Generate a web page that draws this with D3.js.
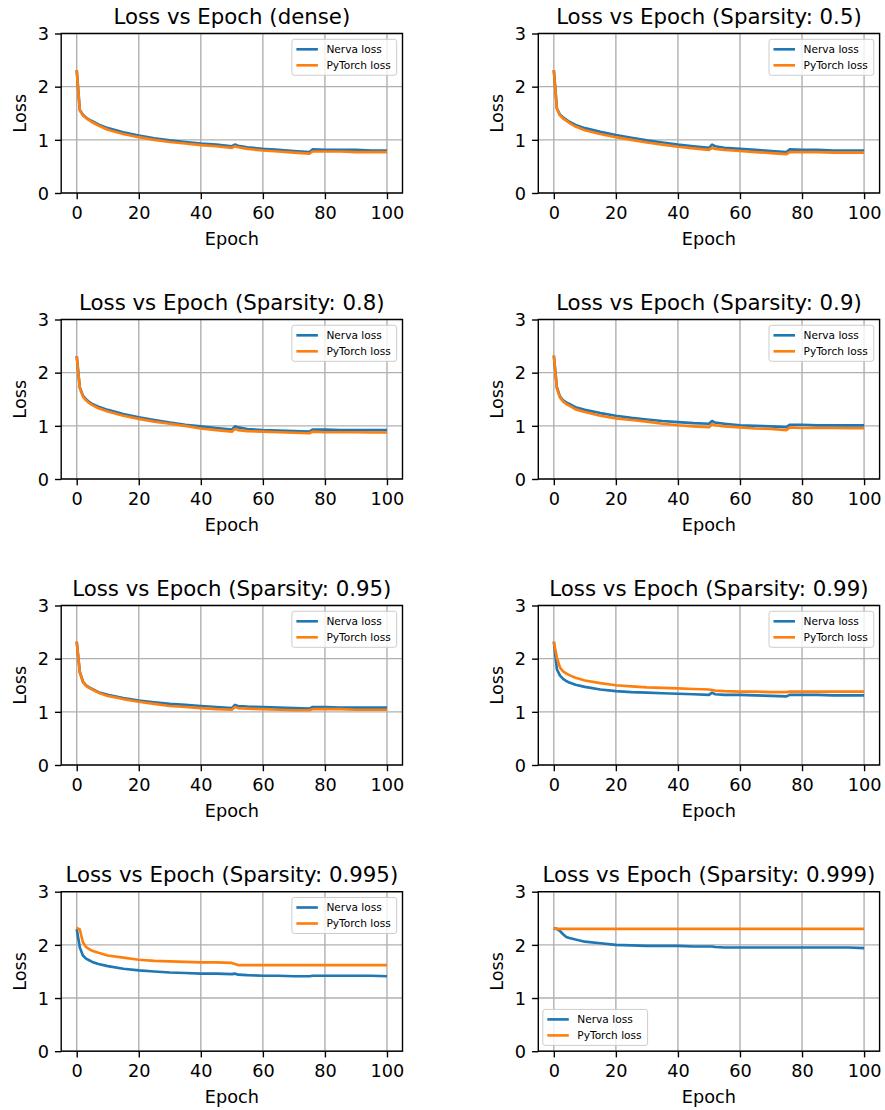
<!DOCTYPE html>
<html>
<head>
<meta charset="utf-8">
<script src="https://cdn.jsdelivr.net/npm/d3@7"></script>
<style>
  html, body { margin: 0; padding: 0; background: #fff; }
  svg { display: block; font-family: "DejaVu Sans", sans-serif; }
</style>
</head>
<body>
<svg id="chart" width="885" height="1110"></svg>
<script>
// ---------------- data ----------------
const epochs = [0,1,2,3,4,5,7,10,15,20,25,30,35,40,45,50,51,52,55,60,65,70,75,76,80,85,90,95,100];

const titles = [
  "Loss vs Epoch (dense)",
  "Loss vs Epoch (Sparsity: 0.5)",
  "Loss vs Epoch (Sparsity: 0.8)",
  "Loss vs Epoch (Sparsity: 0.9)",
  "Loss vs Epoch (Sparsity: 0.95)",
  "Loss vs Epoch (Sparsity: 0.99)",
  "Loss vs Epoch (Sparsity: 0.995)",
  "Loss vs Epoch (Sparsity: 0.999)"
];

const seriesNames = ["Nerva loss", "PyTorch loss"];

const nervaDense   = [2.31,1.56,1.47,1.42,1.38,1.35,1.29,1.22,1.14,1.08,1.03,0.99,0.96,0.93,0.91,0.88,0.91,0.89,0.86,0.83,0.81,0.79,0.77,0.82,0.81,0.81,0.81,0.80,0.80];
const torchDense   = [2.31,1.55,1.46,1.41,1.37,1.33,1.27,1.19,1.11,1.05,1.00,0.96,0.93,0.90,0.88,0.85,0.88,0.86,0.83,0.80,0.78,0.76,0.74,0.78,0.78,0.78,0.77,0.77,0.77];
const nerva05      = [2.31,1.59,1.47,1.42,1.38,1.34,1.28,1.22,1.15,1.09,1.04,0.99,0.95,0.91,0.88,0.85,0.91,0.88,0.85,0.83,0.81,0.79,0.77,0.82,0.81,0.81,0.80,0.80,0.80];
const torch05      = [2.31,1.58,1.46,1.40,1.36,1.32,1.25,1.18,1.11,1.05,1.00,0.95,0.91,0.87,0.84,0.81,0.85,0.83,0.81,0.79,0.77,0.75,0.73,0.77,0.77,0.77,0.76,0.76,0.76];
const nerva08      = [2.31,1.72,1.57,1.50,1.45,1.41,1.36,1.30,1.22,1.16,1.11,1.06,1.02,0.99,0.96,0.93,0.99,0.97,0.94,0.92,0.91,0.90,0.89,0.93,0.93,0.92,0.92,0.92,0.92];
const torch08      = [2.31,1.71,1.55,1.48,1.43,1.39,1.33,1.27,1.19,1.13,1.08,1.04,1.00,0.95,0.92,0.89,0.94,0.92,0.90,0.89,0.88,0.87,0.86,0.89,0.88,0.88,0.88,0.875,0.875];
const nerva09      = [2.32,1.72,1.55,1.48,1.44,1.41,1.35,1.30,1.24,1.19,1.15,1.12,1.09,1.07,1.05,1.04,1.09,1.06,1.04,1.01,1.00,0.99,0.975,1.02,1.02,1.01,1.01,1.01,1.01];
const torch09      = [2.32,1.70,1.53,1.46,1.41,1.38,1.31,1.26,1.19,1.14,1.11,1.08,1.04,1.01,0.99,0.975,1.03,1.01,0.99,0.97,0.95,0.94,0.92,0.97,0.96,0.96,0.96,0.955,0.955];
const nerva095     = [2.32,1.75,1.57,1.50,1.46,1.43,1.37,1.32,1.26,1.21,1.18,1.15,1.13,1.11,1.09,1.07,1.13,1.11,1.10,1.09,1.08,1.07,1.06,1.09,1.09,1.08,1.08,1.08,1.08];
const torch095     = [2.32,1.74,1.56,1.49,1.45,1.42,1.36,1.30,1.24,1.19,1.15,1.11,1.09,1.07,1.05,1.04,1.09,1.07,1.06,1.05,1.04,1.03,1.03,1.05,1.05,1.05,1.04,1.04,1.04];
const nerva099     = [2.32,1.80,1.68,1.62,1.58,1.55,1.51,1.47,1.42,1.39,1.37,1.36,1.35,1.34,1.33,1.32,1.36,1.33,1.32,1.32,1.31,1.30,1.29,1.32,1.32,1.32,1.31,1.31,1.31];
const torch099     = [2.32,2.02,1.83,1.76,1.72,1.69,1.64,1.59,1.54,1.50,1.48,1.46,1.45,1.44,1.43,1.42,1.41,1.40,1.39,1.38,1.38,1.37,1.37,1.38,1.38,1.38,1.38,1.38,1.38];
const nerva0995    = [2.30,1.95,1.80,1.74,1.71,1.68,1.64,1.60,1.55,1.52,1.50,1.48,1.47,1.46,1.46,1.45,1.46,1.44,1.43,1.42,1.42,1.41,1.41,1.42,1.42,1.42,1.42,1.42,1.41];
const torch0995    = [2.32,2.29,2.05,1.96,1.92,1.89,1.85,1.80,1.76,1.72,1.70,1.69,1.68,1.67,1.67,1.66,1.64,1.62,1.62,1.62,1.62,1.62,1.62,1.62,1.62,1.62,1.62,1.62,1.62];
const nerva0999    = [2.31,2.30,2.26,2.20,2.15,2.13,2.10,2.06,2.03,2.00,1.99,1.98,1.98,1.98,1.97,1.97,1.97,1.96,1.95,1.95,1.95,1.95,1.95,1.95,1.95,1.95,1.95,1.95,1.94];
const torch0999    = [2.30,2.30,2.30,2.30,2.30,2.30,2.30,2.30,2.30,2.30,2.30,2.30,2.30,2.30,2.30,2.30,2.30,2.30,2.30,2.30,2.30,2.30,2.30,2.30,2.30,2.30,2.30,2.30,2.30];

const nervaSeries = [nervaDense, nerva05, nerva08, nerva09, nerva095, nerva099, nerva0995, nerva0999];
const torchSeries = [torchDense, torch05, torch08, torch09, torch095, torch099, torch0995, torch0999];
const legendLoc = ["upper right","upper right","upper right","upper right","upper right","upper right","upper right","lower left"];

const xTicks = [0, 20, 40, 60, 80, 100];
const yTicks = [0, 1, 2, 3];

// ---------------- layout ----------------
const colX = [61.2, 538.3];
const rowY = [33.5, 319.5, 605.5, 891.7];
const W = 341.3, H = 159.5;
const colors = ["#1f77b4", "#ff7f0e"];
const tickFont = 17.7, titleFont = 21.3, legendFont = 10.6;
const lw = 1.4, tickLen = 6.2;

const svg = d3.select("#chart");

titles.forEach((title, i) => {
  const col = i % 2, row = Math.floor(i / 2);
  const g = svg.append("g").attr("transform", `translate(${colX[col]},${rowY[row]})`);
  const x = d3.scaleLinear().domain([-5, 105]).range([0, W]);
  const y = d3.scaleLinear().domain([0, 3]).range([H, 0]);

  // grid
  g.append("g").selectAll("line").data(xTicks).join("line")
    .attr("x1", d => x(d)).attr("x2", d => x(d)).attr("y1", 0).attr("y2", H)
    .attr("stroke", "#b0b0b0").attr("stroke-width", lw);
  g.append("g").selectAll("line").data(yTicks).join("line")
    .attr("x1", 0).attr("x2", W).attr("y1", d => y(d)).attr("y2", d => y(d))
    .attr("stroke", "#b0b0b0").attr("stroke-width", lw);

  // lines
  const clipId = "clip" + i;
  g.append("clipPath").attr("id", clipId).append("rect").attr("width", W).attr("height", H);
  const line = d3.line().x((d, k) => x(epochs[k])).y(d => y(d));
  const series = [nervaSeries[i], torchSeries[i]];
  series.forEach((s, k) => {
    g.append("path").datum(s)
      .attr("clip-path", `url(#${clipId})`)
      .attr("d", line).attr("fill", "none")
      .attr("stroke", colors[k]).attr("stroke-width", 2.65)
      .attr("stroke-linejoin", "round").attr("stroke-linecap", "butt");
  });

  // axes
  const xAxis = d3.axisBottom(x).tickValues(xTicks).tickSize(tickLen).tickPadding(6).tickFormat(d3.format("d"));
  const yAxis = d3.axisLeft(y).tickValues(yTicks).tickSize(tickLen).tickPadding(6).tickFormat(d3.format("d"));
  const gx = g.append("g").attr("transform", `translate(0,${H})`).call(xAxis);
  const gy = g.append("g").call(yAxis);
  [gx, gy].forEach(a => {
    a.select(".domain").remove();
    a.selectAll(".tick line").attr("stroke", "#000").attr("stroke-width", lw);
    a.selectAll(".tick text").attr("fill", "#000").style("font-size", tickFont + "px")
      .style("font-family", "DejaVu Sans");
  });
  gx.selectAll(".tick text").attr("dy", null).attr("y", 25.5);
  gy.selectAll(".tick text").attr("dy", "0.35em");

  // spines
  g.append("rect").attr("width", W).attr("height", H)
    .attr("fill", "none").attr("stroke", "#000").attr("stroke-width", lw);

  // labels
  g.append("text").attr("x", W / 2).attr("y", H + 51.5)
    .attr("text-anchor", "middle").style("font-size", tickFont + "px").text("Epoch");
  g.append("text").attr("transform", `translate(-35,${H / 2}) rotate(-90)`)
    .attr("text-anchor", "middle").style("font-size", tickFont + "px").text("Loss");
  g.append("text").attr("x", W / 2).attr("y", -9.5)
    .attr("text-anchor", "middle").style("font-size", titleFont + "px").text(title);

  // legend
  const lg = g.append("g");
  const box = lg.append("rect").attr("fill", "#fff").attr("fill-opacity", 0.8)
    .attr("stroke", "#cccccc").attr("stroke-width", 1).attr("rx", 2.5);
  const pad = 4.5, sample = 21.5, gap = 8.5, rowH = 16;
  let maxW = 0;
  seriesNames.forEach((name, k) => {
    const cy = pad + 5.5 + k * rowH;
    lg.append("line").attr("x1", pad).attr("x2", pad + sample).attr("y1", cy).attr("y2", cy)
      .attr("stroke", colors[k]).attr("stroke-width", 2.65);
    const t = lg.append("text").attr("x", pad + sample + gap).attr("y", cy).attr("dy", "0.35em")
      .style("font-size", legendFont + "px").attr("fill", "#000").text(name);
    maxW = Math.max(maxW, t.node().getComputedTextLength());
  });
  const bw = pad + sample + gap + maxW + pad + 1.5;
  const bh = pad * 2 + 11 + rowH;
  box.attr("width", bw).attr("height", bh);
  if (legendLoc[i] === "upper right") {
    lg.attr("transform", `translate(${W - 5.8 - bw},${5.8})`);
  } else {
    lg.attr("transform", `translate(${4.5},${H - 5.8 - bh})`);
  }
});
</script>
</body>
</html>
